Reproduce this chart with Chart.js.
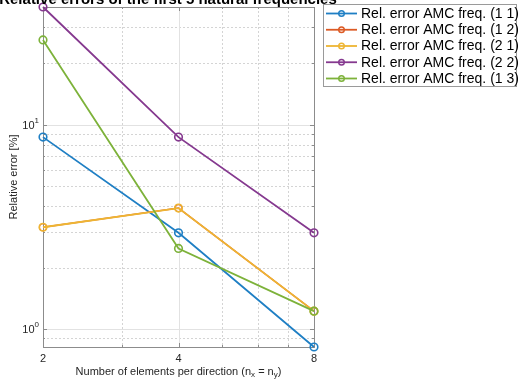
<!DOCTYPE html>
<html>
<head>
<meta charset="utf-8">
<script src="https://cdn.jsdelivr.net/npm/chart.js@4.4.1/dist/chart.umd.min.js"></script>
<style>
  html, body { margin: 0; padding: 0; background: #fff; }
  canvas { display: block; }
</style>
</head>
<body>
<canvas id="chart" width="518" height="382"></canvas>
<script>
// number of elements per direction (log x axis)
const nelem = [2, 4, 8];

// relative errors [%] per mode
const err11 = [8.7, 2.96, 0.817];
const err12 = [3.15, 3.91, 1.224];
const err21 = [3.15, 3.91, 1.224];
const err22 = [37.7, 8.7, 2.96];
const err13 = [26.0, 2.48, 1.224];

const seriesNames = [
  'Rel. error AMC freq. (1 1)',
  'Rel. error AMC freq. (1 2)',
  'Rel. error AMC freq. (2 1)',
  'Rel. error AMC freq. (2 2)',
  'Rel. error AMC freq. (1 3)'
];
const seriesColors = ['#1f7fc4', '#dc5a24', '#eeb533', '#85398f', '#7db23a'];
const allSeries = [err11, err12, err21, err22, err13];

const xMajor = [2, 4, 8];
const xMinor = [3, 5, 6, 7];
const yMajor = [1, 10];
const yMinor = [0.9, 2, 3, 4, 5, 6, 7, 8, 9, 20, 30];

const FONT = '"Liberation Sans", Arial, Helvetica, sans-serif';

const datasets = allSeries.map((vals, i) => ({
  label: seriesNames[i],
  data: nelem.map((n, k) => ({ x: n, y: vals[k] })),
  borderColor: seriesColors[i],
  backgroundColor: 'rgba(0,0,0,0)',
  borderWidth: i == 1 ? 1.4 : 1.8,
  pointRadius: i == 1 ? 3.5 : 3.8,
  pointBorderWidth: i == 1 ? 1.2 : 1.6,
  pointBackgroundColor: 'rgba(0,0,0,0)',
  pointBorderColor: seriesColors[i],
  tension: 0,
  clip: false,
  order: 4 - i,
}));

// grid, box, texts and legend in MATLAB style
const matlabStyle = {
  id: 'matlabStyle',
  beforeDatasetsDraw(chart) {
    const ctx = chart.ctx;
    const a = chart.chartArea;
    const xs = chart.scales.x, ys = chart.scales.y;
    ctx.save();
    ctx.lineWidth = 1;
    // minor grid (dotted)
    ctx.strokeStyle = '#d4d4d4';
    ctx.setLineDash([2, 2]);
    xMinor.forEach(v => {
      const px = Math.round(xs.getPixelForValue(v)) + 0.5;
      ctx.beginPath(); ctx.moveTo(px, a.top); ctx.lineTo(px, a.bottom); ctx.stroke();
    });
    yMinor.forEach(v => {
      const py = Math.round(ys.getPixelForValue(v)) + 0.5;
      ctx.beginPath(); ctx.moveTo(a.left, py); ctx.lineTo(a.right, py); ctx.stroke();
    });
    // major grid (solid)
    ctx.setLineDash([]);
    ctx.strokeStyle = '#e2e2e2';
    xMajor.forEach(v => {
      const px = Math.round(xs.getPixelForValue(v)) + 0.5;
      ctx.beginPath(); ctx.moveTo(px, a.top); ctx.lineTo(px, a.bottom); ctx.stroke();
    });
    yMajor.forEach(v => {
      const py = Math.round(ys.getPixelForValue(v)) + 0.5;
      ctx.beginPath(); ctx.moveTo(a.left, py); ctx.lineTo(a.right, py); ctx.stroke();
    });
    // box
    ctx.strokeStyle = '#8c8c8c';
    ctx.strokeRect(Math.round(a.left) + 0.5, Math.round(a.top) + 0.5,
      Math.round(a.right - a.left), Math.round(a.bottom - a.top));
    // ticks
    ctx.beginPath();
    yMajor.concat(yMinor).forEach(v => {
      const py = Math.round(ys.getPixelForValue(v)) + 0.5;
      const len = yMajor.includes(v) ? 4 : 2;
      ctx.moveTo(a.left, py); ctx.lineTo(a.left + len, py);
      ctx.moveTo(a.right, py); ctx.lineTo(a.right - len, py);
    });
    xMajor.concat(xMinor).forEach(v => {
      const px = Math.round(xs.getPixelForValue(v)) + 0.5;
      const len = xMajor.includes(v) ? 4 : 2;
      ctx.moveTo(px, a.bottom); ctx.lineTo(px, a.bottom - len);
      ctx.moveTo(px, a.top); ctx.lineTo(px, a.top + len);
    });
    ctx.stroke();
    ctx.restore();
  },
  afterDraw(chart) {
    const ctx = chart.ctx;
    const a = chart.chartArea;
    const xs = chart.scales.x, ys = chart.scales.y;
    ctx.save();
    ctx.fillStyle = '#262626';
    // x tick labels
    ctx.font = '11px ' + FONT;
    ctx.textAlign = 'center';
    ctx.textBaseline = 'middle';
    xMajor.forEach(v => ctx.fillText(String(v), xs.getPixelForValue(v), a.bottom + 12));
    // y tick labels 10^n
    yMajor.forEach(v => {
      const py = ys.getPixelForValue(v);
      const e = Math.round(Math.log10(v));
      ctx.font = '8px ' + FONT;
      ctx.textAlign = 'right';
      ctx.fillText(String(e), a.left - 4, py - 4);
      const ew = ctx.measureText(String(e)).width;
      ctx.font = '11px ' + FONT;
      ctx.fillText('10', a.left - 4 - ew, py + 1);
    });
    // x axis title with subscripts
    const cx = (a.left + a.right) / 2;
    const ty = 372;
    const parts = [
      ['Number of elements per direction (n', 11, 0],
      ['x', 8, 3],
      [' = n', 11, 0],
      ['y', 8, 3],
      [')', 11, 0]
    ];
    let total = 0;
    parts.forEach(p => { ctx.font = p[1] + 'px ' + FONT; total += ctx.measureText(p[0]).width; });
    let xpos = cx - total / 2;
    ctx.textAlign = 'left';
    parts.forEach(p => {
      ctx.font = p[1] + 'px ' + FONT;
      ctx.fillText(p[0], xpos, ty + p[2]);
      xpos += ctx.measureText(p[0]).width;
    });
    // y axis title
    ctx.save();
    ctx.translate(14, (a.top + a.bottom) / 2);
    ctx.rotate(-Math.PI / 2);
    ctx.textAlign = 'center';
    ctx.font = '11px ' + FONT;
    ctx.fillText('Relative error [%]', 0, 0);
    ctx.restore();
    // title (partly off canvas, as in the figure)
    ctx.font = 'bold 15px ' + FONT;
    ctx.textAlign = 'center';
    ctx.textBaseline = 'alphabetic';
    ctx.fillStyle = '#000';
    ctx.fillText('Relative errors of the first 5 natural frequencies', 168, 3.5);
    // legend
    const lx = 323, ly = 4, lw = 194, lh = 83;
    ctx.fillStyle = '#fff';
    ctx.fillRect(lx, ly, lw, lh);
    ctx.strokeStyle = '#9a9a9a';
    ctx.lineWidth = 1;
    ctx.strokeRect(lx + 0.5, ly + 0.5, lw - 1, lh - 1);
    ctx.font = '14px ' + FONT;
    ctx.textAlign = 'left';
    ctx.textBaseline = 'middle';
    chart.data.datasets.forEach((ds, i) => {
      const ey = 13.5 + i * 16.25;
      ctx.strokeStyle = ds.borderColor;
      ctx.lineWidth = 1.8;
      ctx.beginPath(); ctx.moveTo(lx + 3, ey); ctx.lineTo(lx + 34, ey); ctx.stroke();
      ctx.lineWidth = 1.4;
      ctx.beginPath(); ctx.arc(lx + 18.5, ey, 2.8, 0, Math.PI * 2); ctx.stroke();
      ctx.fillStyle = '#000';
      ctx.fillText(ds.label, lx + 38, ey + 0.5);
    });
    ctx.restore();
  }
};

new Chart(document.getElementById('chart').getContext('2d'), {
  type: 'line',
  data: { datasets: datasets },
  options: {
    responsive: false,
    animation: false,
    events: [],
    layout: { padding: { left: 43, right: 204, top: 7, bottom: 35 } },
    plugins: {
      legend: { display: false },
      title: { display: false },
      tooltip: { enabled: false },
    },
    scales: {
      x: {
        type: 'logarithmic',
        min: 2,
        max: 8,
        bounds: 'data',
        display: false,
      },
      y: {
        type: 'logarithmic',
        min: 0.817,
        max: 37.7,
        bounds: 'data',
        display: false,
      },
    },
  },
  plugins: [matlabStyle],
});
</script>
</body>
</html>
